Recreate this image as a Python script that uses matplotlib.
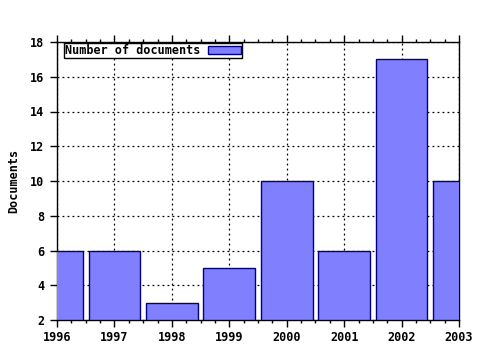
import matplotlib
matplotlib.use('Agg')
import matplotlib.pyplot as plt
from matplotlib.ticker import MultipleLocator

years = [1996, 1997, 1998, 1999, 2000, 2001, 2002, 2003]
docs = [6, 6, 3, 5, 10, 6, 17, 10]

plt.rcParams['font.family'] = 'DejaVu Sans Mono'
plt.rcParams['font.weight'] = 'bold'
plt.rcParams['font.size'] = 8.5

fig = plt.figure(figsize=(4.8, 3.5), dpi=100)
ax = fig.add_axes([57/480, 30/350, 402/480, 278/350])

ax.bar(years, [d - 2 for d in docs], bottom=2, width=0.9, color='#8080ff',
       edgecolor='#000080', linewidth=1, label='Number of documents', zorder=3)

ax.set_xlim(1996, 2003)
ax.set_ylim(2, 18)
ax.xaxis.set_major_locator(MultipleLocator(1))
ax.xaxis.set_minor_locator(MultipleLocator(0.25))
ax.yaxis.set_major_locator(MultipleLocator(2))
ax.tick_params(which='both', direction='out', width=1)
ax.tick_params(axis='x', which='both', top=True)
ax.tick_params(axis='x', which='major', length=5, pad=3)
ax.tick_params(axis='x', which='minor', length=2)
ax.tick_params(axis='y', which='major', length=5, pad=4)
ax.grid(True, which='major', color='black', linestyle=(0, (1.5, 2.5)), linewidth=0.9, zorder=0)
for s in ax.spines.values():
    s.set_linewidth(1)

ax.set_ylabel('Documents', fontweight='bold', labelpad=7)

leg = ax.legend(loc='upper left', bbox_to_anchor=(7/402, 1 - 1/278), markerfirst=False,
                fancybox=False, framealpha=1, edgecolor='black', borderpad=0.1,
                handlelength=2.8, handleheight=0.6, handletextpad=0.6, borderaxespad=0,
                prop={'weight': 'bold', 'size': 8.5})
leg.get_frame().set_linewidth(1)

fig.savefig('out.png', dpi=100)
